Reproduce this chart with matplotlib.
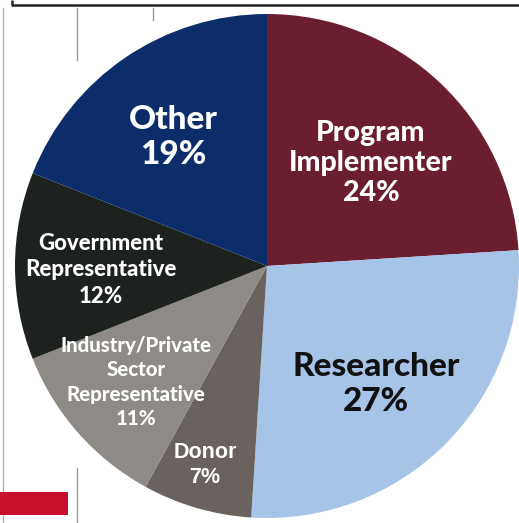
import matplotlib
matplotlib.use('Agg')
import matplotlib.pyplot as plt
from matplotlib.patches import Rectangle

W, H = 519, 523

# slices, clockwise from 12 o'clock
categories = ['Program\nImplementer', 'Researcher', 'Donor',
              'Industry/Private\nSector\nRepresentative',
              'Government\nRepresentative', 'Other']
shares = [24, 27, 7, 11, 12, 19]
colors = ['#6A1E2F', '#A6C3E8', '#6A625F', '#8E8A86', '#1E221F', '#0B2E6B']

# label placement in pixel coords (x, y from top), font size, text colour, family, weight
label_style = [
    ((371, 163), 20.5, 'white', 'Lato', 'black'),
    ((376, 384), 24, '#111111', 'Lato', 'black'),
    ((205, 465), 15.5, 'white', 'Liberation Sans', 'bold'),
    ((136, 382), 14.7, 'white', 'Lato', 'black'),
    ((101, 270), 16, 'white', 'Lato', 'black'),
    ((173, 137), 24, 'white', 'Lato', 'black'),
]
line_gap = [1.18, 1.23, 1.3, 1.32, 1.34, 1.23]


def main():
    fig = plt.figure(figsize=(W / 100, H / 100), dpi=100)
    ax = fig.add_axes([0, 0, 1, 1])
    cx, cy, r = 267, 266, 252
    ax.pie(shares, colors=colors, startangle=90, counterclock=False,
           center=(cx, H - cy), radius=r, wedgeprops=dict(linewidth=0))
    ax.set_xlim(0, W)
    ax.set_ylim(0, H)
    ax.set_aspect('equal')
    ax.axis('off')

    for name, pct, ((x, y), fs, col, fam, wt), gap in zip(categories, shares,
                                                          label_style, line_gap):
        ax.text(x, H - y, f'{name}\n{pct}%', ha='center', va='center',
                fontsize=fs, color=col, fontweight=wt, family=fam,
                linespacing=gap, zorder=5)

    # slide decoration around the chart
    ax.plot([12, 12, W], [H, H - 5, H - 5], color='#222222', lw=1.8,
            solid_capstyle='butt', zorder=6)
    ax.plot([3, 3], [0, H - 8], color='#B0B0B0', lw=1.0, zorder=0)
    ax.plot([77, 77], [H - 8, H - 60], color='#9A9A9A', lw=1.0, zorder=0)
    ax.plot([153, 153], [H - 8, H - 20], color='#9A9A9A', lw=1.0, zorder=0)
    ax.plot([77, 77], [0, H - 468], color='#9A9A9A', lw=1.0, zorder=0)
    ax.add_patch(Rectangle((0, H - 515), 68, 23, color='#C8102E', lw=0, zorder=6))

    fig.savefig('out.png', dpi=100, facecolor='white')
    plt.close(fig)


if __name__ == '__main__':
    main()
